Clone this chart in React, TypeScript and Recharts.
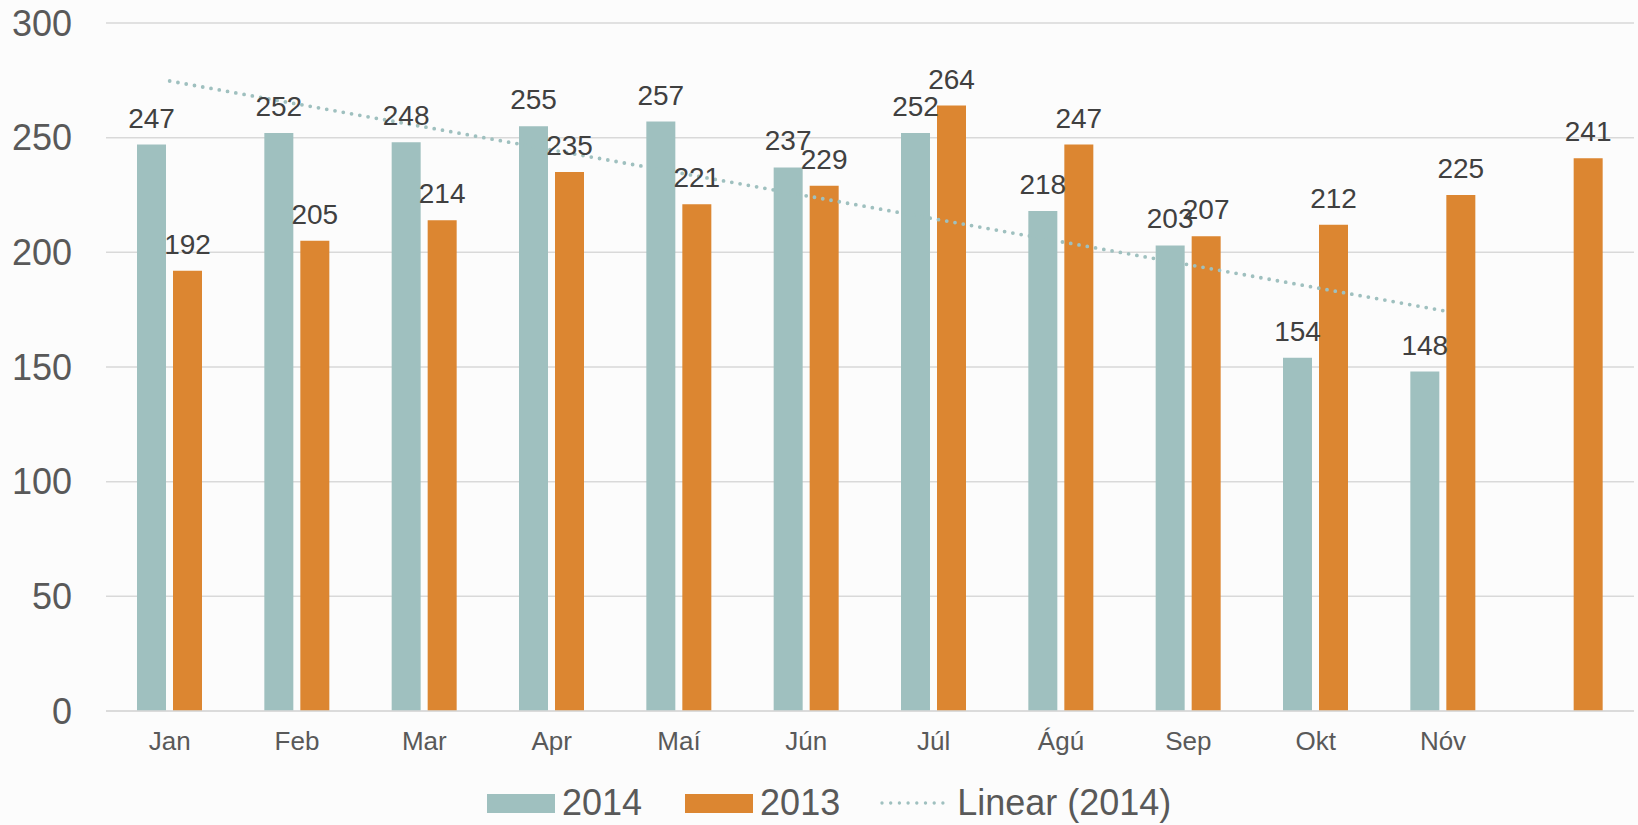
import {
  ComposedChart,
  Bar,
  Line,
  XAxis,
  YAxis,
  CartesianGrid,
  Legend,
  LabelList,
} from 'recharts';

const months = ['Jan', 'Feb', 'Mar', 'Apr', 'Maí', 'Jún', 'Júl', 'Ágú', 'Sep', 'Okt', 'Nóv', ''];
const values2014 = [247, 252, 248, 255, 257, 237, 252, 218, 203, 154, 148, null];
const values2013 = [192, 205, 214, 235, 221, 229, 264, 247, 207, 212, 225, 241];
const trend2014 = [274.7, null, null, null, null, null, null, null, null, null, 174.6, null];
const yTicks = [0, 50, 100, 150, 200, 250, 300];

const TEAL = '#9fc0bf';
const ORANGE = '#dc8631';
const GRID = '#d9d9d9';

const data = months.map((m, i) => ({
  month: m,
  y2014: values2014[i],
  y2013: values2013[i],
  trend: trend2014[i],
}));

function ChartLegend() {
  const text = { fontSize: 36, color: '#595959', lineHeight: '44px' };
  const swatch = (c: string) => (
    <span style={{ display: 'inline-block', width: 68, height: 19, background: c, marginRight: 7 }} />
  );
  return (
    <div style={{ display: 'flex', alignItems: 'center', height: 44, paddingLeft: 487 }}>
      {swatch(TEAL)}
      <span style={{ ...text, marginRight: 43 }}>2014</span>
      {swatch(ORANGE)}
      <span style={{ ...text, marginRight: 40 }}>2013</span>
      <svg width={65} height={10} style={{ marginRight: 12 }}>
        <line
          x1={2}
          y1={5}
          x2={63}
          y2={5}
          stroke={TEAL}
          strokeWidth={3.4}
          strokeDasharray="0 8.7"
          strokeLinecap="round"
        />
      </svg>
      <span style={text}>Linear (2014)</span>
    </div>
  );
}

export default function App() {
  return (
    <div
      style={{
        position: 'fixed',
        left: 0,
        top: 0,
        width: 1638,
        height: 825,
        background: '#fcfcfc',
        fontFamily: '"Liberation Sans", Arial, sans-serif',
      }}
    >
      <ComposedChart
        width={1638}
        height={825}
        data={data}
        barGap={7}
        margin={{ top: 23, right: 4, left: 0, bottom: 0 }}
      >
        <CartesianGrid vertical={false} stroke={GRID} strokeWidth={1.5} />
        <XAxis
          dataKey="month"
          height={70}
          tickLine={false}
          tickSize={0}
          tickMargin={21}
          axisLine={{ stroke: GRID, strokeWidth: 1.5 }}
          tick={{ fontSize: 26, fill: '#595959' }}
          interval={0}
        />
        <YAxis
          domain={[0, 300]}
          ticks={yTicks}
          width={106}
          axisLine={false}
          tickLine={false}
          tickSize={0}
          tickMargin={34}
          tick={{ fontSize: 36, fill: '#595959' }}
        />
        <Legend verticalAlign="bottom" content={() => <ChartLegend />} />
        <Bar dataKey="y2014" fill={TEAL} barSize={29} isAnimationActive={false}>
          <LabelList dataKey="y2014" position="top" offset={17} fontSize={28} fill="#404040" />
        </Bar>
        <Bar dataKey="y2013" fill={ORANGE} barSize={29} isAnimationActive={false}>
          <LabelList dataKey="y2013" position="top" offset={17} fontSize={28} fill="#404040" />
        </Bar>
        <Line
          dataKey="trend"
          connectNulls
          dot={false}
          activeDot={false}
          stroke={TEAL}
          strokeWidth={3.8}
          strokeDasharray="0 8.4"
          strokeLinecap="round"
          isAnimationActive={false}
        />
      </ComposedChart>
    </div>
  );
}
